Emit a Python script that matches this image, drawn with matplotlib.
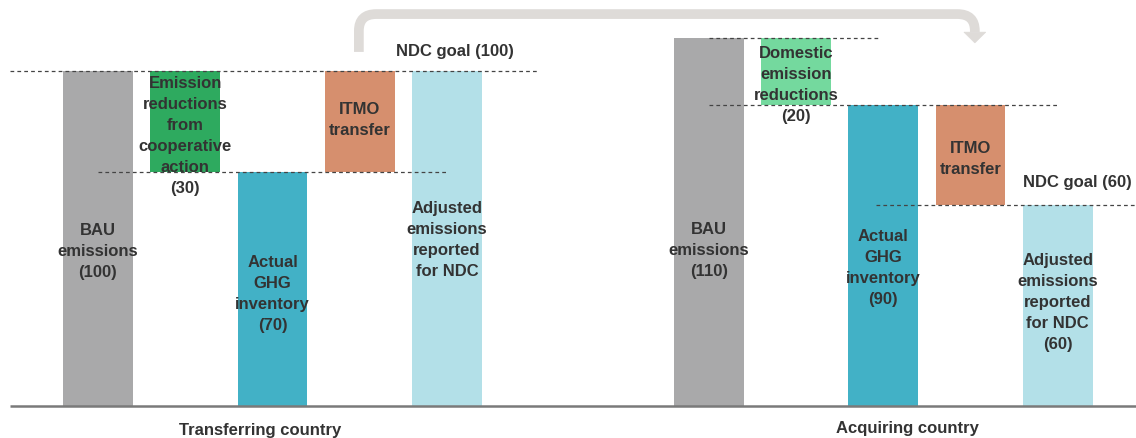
import matplotlib
matplotlib.use("Agg")
import matplotlib.pyplot as plt
from matplotlib.path import Path
from matplotlib.patches import PathPatch, Polygon

plt.rcParams['font.family'] = ['Liberation Sans', 'DejaVu Sans']

# ---- data ----
groups = ["Transferring country", "Acquiring country"]
transfer_values = [100, 30, 70, 30, 100]
transfer_bottoms = [0, 70, 0, 70, 0]
transfer_labels = ["BAU\nemissions\n(100)",
                   "Emission\nreductions\nfrom\ncooperative\naction\n(30)",
                   "Actual\nGHG\ninventory\n(70)",
                   "ITMO\ntransfer",
                   "Adjusted\nemissions\nreported\nfor NDC"]
acquire_values = [110, 20, 90, 30, 60]
acquire_bottoms = [0, 90, 0, 60, 0]
acquire_labels = ["BAU\nemissions\n(110)",
                  "Domestic\nemission\nreductions\n(20)",
                  "Actual\nGHG\ninventory\n(90)",
                  "ITMO\ntransfer",
                  "Adjusted\nemissions\nreported\nfor NDC\n(60)"]
transfer_goal = 100
acquire_goal = 60
goal_labels = ["NDC goal (100)", "NDC goal (60)"]

colors_left = ["#a9a9aa", "#2eaa5f", "#42b1c6", "#d68f6e", "#b3e0e8"]
colors_right = ["#a9a9aa", "#74d99e", "#42b1c6", "#d68f6e", "#b3e0e8"]
TXT = "#333333"

x_left = [0, 1, 2, 3, 4]
x_right = [7, 8, 9, 10, 11]

fig = plt.figure(figsize=(11.36, 4.38), dpi=100)
ax = fig.add_axes([0, 0, 1, 1])
ax.set_xlim(-1.123, 11.897)
ax.set_ylim(-9.55, 121.2)
ax.axis('off')

W = 0.80
ax.bar(x_left, transfer_values, bottom=transfer_bottoms, width=W, color=colors_left, zorder=2)
ax.bar(x_right, acquire_values, bottom=acquire_bottoms, width=W, color=colors_right, zorder=2)

# baseline
ax.plot([-1.01, 11.9], [0, 0], color="#7a7a7a", lw=1.8, zorder=3, solid_capstyle='butt')

# dashed guide lines
dk = dict(color="#444444", lw=0.9, ls=(0, (3, 2.5)), zorder=4)
ax.plot([-1.01, 5.03], [transfer_values[0], transfer_values[0]], **dk)
ax.plot([0, 4.0], [transfer_bottoms[1], transfer_bottoms[1]], **dk)
ax.plot([7.0, 8.95], [acquire_values[0], acquire_values[0]], **dk)
ax.plot([7.0, 11.0], [acquire_bottoms[1], acquire_bottoms[1]], **dk)
ax.plot([8.92, 11.9], [acquire_goal, acquire_goal], **dk)

fs = 12
tk = dict(ha='center', va='center', fontsize=fs, fontweight='bold', color=TXT,
          linespacing=1.5, zorder=5)
left_y = [46, 80.6, 33.4, 85.4, 49.6]
right_y = [46.3, 95.7, 41.2, 73.7, 31]
for x, y, s in zip(x_left, left_y, transfer_labels):
    ax.text(x, y, s, **tk)
for x, y, s in zip(x_right, right_y, acquire_labels):
    ax.text(x, y, s, **tk)

ax.text(4.09, 105.7, goal_labels[0], **tk)
ax.text(11.23, 66.6, goal_labels[1], **tk)

ax.text(1.86, -7.2, groups[0], **tk)
ax.text(9.28, -6.6, groups[1], **tk)

# curved arrow
acol = "#dedbd8"
x0, y0 = 2.99, 105.7
ytop = 117.0
x1 = 10.05
ytip_start = 111.6
rx = 0.2
ry = 5.0
verts = [(x0, y0), (x0, ytop - ry), (x0, ytop), (x0 + rx, ytop),
         (x1 - rx, ytop), (x1, ytop), (x1, ytop - ry), (x1, ytip_start)]
codes = [Path.MOVETO, Path.LINETO, Path.CURVE3, Path.CURVE3,
         Path.LINETO, Path.CURVE3, Path.CURVE3, Path.LINETO]
ax.add_patch(PathPatch(Path(verts, codes), fill=False, edgecolor=acol, lw=7,
                       capstyle='butt', joinstyle='round', zorder=1))
ax.add_patch(Polygon([(x1 - 0.125, ytip_start), (x1 + 0.125, ytip_start), (x1, 108.4)],
                     closed=True, facecolor=acol, edgecolor=acol, lw=0.5, zorder=1))

fig.savefig("out.png", dpi=100)
